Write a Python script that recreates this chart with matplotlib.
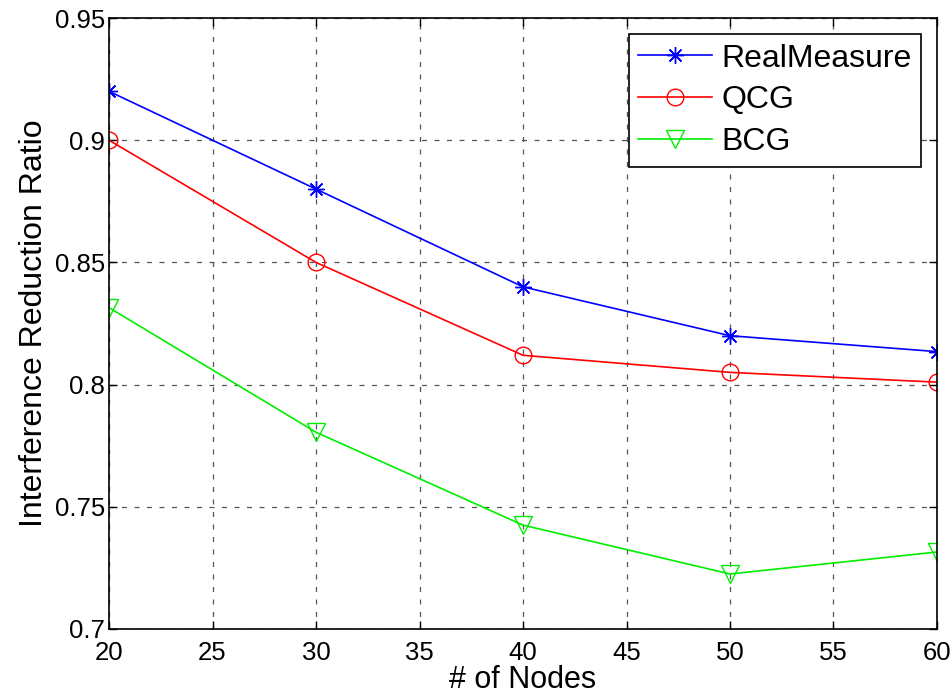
import numpy as np
import matplotlib.pyplot as plt

plt.rcParams['font.family'] = ['Liberation Sans', 'DejaVu Sans']

nodes = [20, 30, 40, 50, 60]
real_measure = [0.920, 0.880, 0.840, 0.820, 0.8135]
qcg = [0.900, 0.850, 0.812, 0.805, 0.801]
bcg = [0.8315, 0.7805, 0.7425, 0.7225, 0.7315]

fig = plt.figure(figsize=(9.53, 6.94), dpi=100)
ax = fig.add_axes([0.1144, 0.0937, 0.8688, 0.8803])

ax.plot(nodes, real_measure, color='blue', marker=(8, 2, 0), markersize=12, lw=1.2,
        markeredgewidth=1.0, label='RealMeasure')
ax.plot(nodes, qcg, color='red', marker='o', markersize=12, lw=1.2,
        markerfacecolor='none', markeredgewidth=1.0, label='QCG')
ax.plot(nodes, bcg, color='#00ee00', marker='v', markersize=13, lw=1.2,
        markerfacecolor='none', markeredgewidth=1.0, label='BCG')

ax.set_xlim(20, 60)
ax.set_ylim(0.7, 0.95)
ax.set_xticks(np.arange(20, 61, 5))
ax.set_yticks([0.7, 0.75, 0.8, 0.85, 0.9, 0.95])
ax.set_yticklabels(['0.7', '0.75', '0.8', '0.85', '0.9', '0.95'])
ax.tick_params(direction='in', labelsize=18.5, length=6, width=1.0, top=True, right=True)
ax.tick_params(axis='x', pad=9)
ax.tick_params(axis='y', pad=3)
ax.grid(True, color='#555555', linestyle=(0, (4, 6)), linewidth=0.9)
for s in ax.spines.values():
    s.set_linewidth(1.2)

ax.set_xlabel('# of Nodes', fontsize=22, labelpad=0)
ax.set_ylabel('Interference Reduction Ratio', fontsize=23, labelpad=4)

leg = ax.legend(loc='upper right', fontsize=23, fancybox=False, framealpha=1,
                edgecolor='black', borderpad=0.3, labelspacing=0.37,
                handlelength=2.3, handletextpad=0.3, borderaxespad=0.5)
leg.get_frame().set_linewidth(1.2)

fig.savefig('out.png', dpi=100)
